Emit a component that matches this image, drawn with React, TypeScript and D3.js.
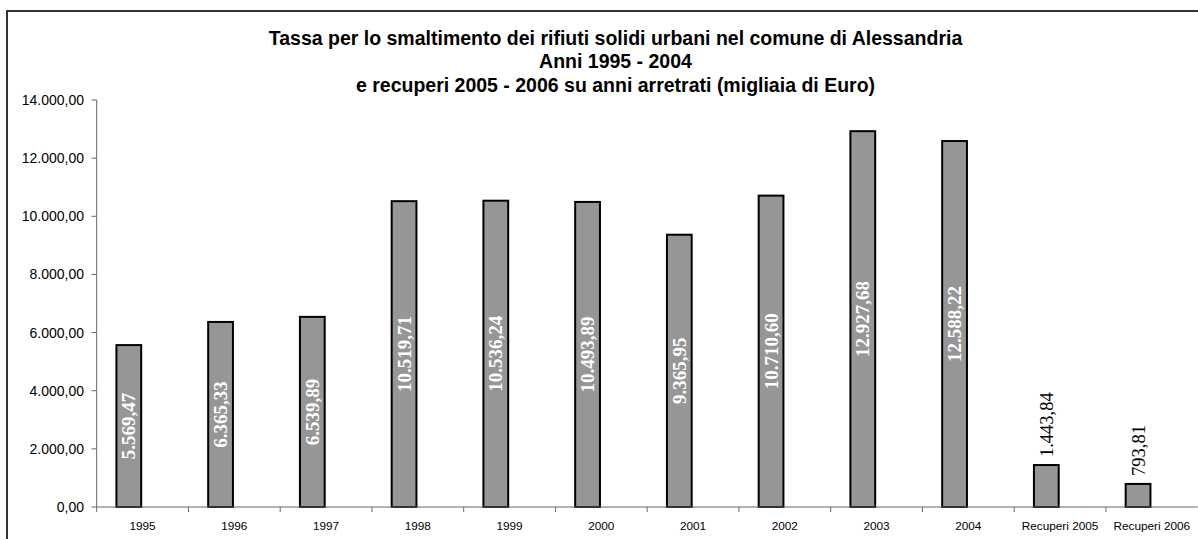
import React from "react";
import * as d3 from "d3";

const categories = ["1995", "1996", "1997", "1998", "1999", "2000", "2001", "2002", "2003", "2004", "Recuperi 2005", "Recuperi 2006"];
const values = [5569.47, 6365.33, 6539.89, 10519.71, 10536.24, 10493.89, 9365.95, 10710.6, 12927.68, 12588.22, 1443.84, 793.81];
const labelInside = [true, true, true, true, true, true, true, true, true, true, false, false];
const yTicks = [0, 2000, 4000, 6000, 8000, 10000, 12000, 14000];
const titleLines = [
  "Tassa per lo smaltimento dei rifiuti solidi urbani nel comune di Alessandria",
  "Anni 1995 - 2004",
  "e recuperi 2005 - 2006 su anni arretrati (migliaia di Euro)",
];

const W = 1198;
const H = 539;

const itFmt = d3.formatLocale({ decimal: ",", thousands: ".", grouping: [3], currency: ["€", ""] }).format(",.2f");

export default function App() {
  const x = d3.scaleBand<string>().domain(categories).range([96.7, 1197.7]).padding(0);
  const y = d3.scaleLinear().domain([0, 14000]).range([507, 100]);
  const bw = x.bandwidth();
  const axisColor = "#666";

  return (
    <svg width={W} height={H} style={{ position: "absolute", left: 0, top: 0, background: "#fff" }}>
      <rect x={7} y={11} width={1300} height={700} fill="none" stroke="#333" strokeWidth={2} />
      {titleLines.map((t, i) => (
        <text key={i} x={615.5} y={44.5 + i * 23.8} textAnchor="middle" fontFamily="Liberation Sans, Arial, sans-serif" fontWeight="bold" fontSize={19.5} fill="#000">
          {t}
        </text>
      ))}
      {/* y axis */}
      <line x1={96.7} x2={96.7} y1={y(14000)} y2={y(0)} stroke={axisColor} strokeWidth={1} />
      {yTicks.map((t) => (
        <g key={t}>
          <line x1={91.5} x2={96.7} y1={y(t)} y2={y(t)} stroke={axisColor} />
          <text x={84} y={y(t) + 5} textAnchor="end" fontFamily="Liberation Sans, Arial, sans-serif" fontSize={14} fill="#000">
            {itFmt(t)}
          </text>
        </g>
      ))}
      {/* bars */}
      {categories.map((c, i) => {
        const bx = (x(c) as number) + bw * 0.215;
        const bwid = bw * 0.27;
        const top = y(values[i]);
        const cx = bx + bwid / 2;
        return (
          <g key={c}>
            <rect x={bx} y={top} width={bwid} height={y(0) - top} fill="#969696" stroke="#000" strokeWidth={2} />
            {labelInside[i] ? (
              <text
                transform={`translate(${cx + 6.5},${(top + y(0)) / 2}) rotate(-90)`}
                textAnchor="middle"
                fontFamily="Liberation Serif, Times New Roman, serif"
                fontWeight="bold"
                fontSize={19}
                fill="#fff"
              >
                {itFmt(values[i])}
              </text>
            ) : (
              <text
                transform={`translate(${cx + 6.5},${top - 8}) rotate(-90)`}
                textAnchor="start"
                fontFamily="Liberation Serif, Times New Roman, serif"
                fontSize={18.5}
                fill="#000"
              >
                {itFmt(values[i])}
              </text>
            )}
          </g>
        );
      })}
      {/* x axis */}
      <line x1={96.7} x2={1197.7} y1={y(0)} y2={y(0)} stroke={axisColor} strokeWidth={1} />
      {categories.map((c, i) => (
        <line key={"t" + i} x1={x(c) as number} x2={x(c) as number} y1={y(0)} y2={y(0) + 5} stroke={axisColor} />
      ))}
      {categories.map((c) => (
        <text key={"l" + c} x={(x(c) as number) + bw / 2} y={530} textAnchor="middle" fontFamily="Liberation Sans, Arial, sans-serif" fontSize={11.8} fill="#000">
          {c}
        </text>
      ))}
    </svg>
  );
}
